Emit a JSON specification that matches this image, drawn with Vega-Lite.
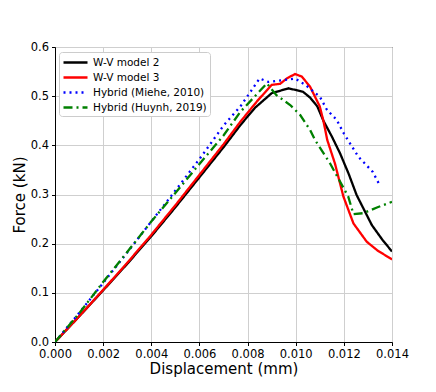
{
  "$schema": "https://vega.github.io/schema/vega-lite/v6.json",
  "autosize": "none",
  "width": 337,
  "height": 295,
  "padding": {"left": 55, "top": 47, "right": 44, "bottom": 50},
  "background": "white",
  "config": {
    "font": "DejaVu Sans",
    "view": {"stroke": "black", "strokeWidth": 1},
    "axis": {
      "domainColor": "black",
      "tickColor": "black",
      "tickSize": 3.5,
      "labelColor": "black",
      "labelFontSize": 11.5,
      "labelPadding": 3,
      "titleColor": "black",
      "titleFontSize": 15,
      "titleFontWeight": "normal",
      "gridColor": "#cfcfcf",
      "gridWidth": 1,
      "labelFlush": false,
      "labelOverlap": false,
      "labelBound": false
    },
    "legend": {
      "fillColor": "white",
      "strokeColor": "#cccccc",
      "cornerRadius": 3,
      "padding": 3,
      "symbolType": "M-1,0H3",
      "symbolSize": 144,
      "symbolStrokeWidth": 2.3,
      "labelFontSize": 10.5,
      "labelColor": "black",
      "rowPadding": 2,
      "labelOffset": 16
    }
  },
  "data": {
    "values": [
      {"s": "W-V model 2", "x": 0, "y": 0},
      {"s": "W-V model 2", "x": 0.001, "y": 0.052},
      {"s": "W-V model 2", "x": 0.002, "y": 0.105},
      {"s": "W-V model 2", "x": 0.003, "y": 0.159},
      {"s": "W-V model 2", "x": 0.004, "y": 0.215},
      {"s": "W-V model 2", "x": 0.005, "y": 0.274},
      {"s": "W-V model 2", "x": 0.006, "y": 0.335},
      {"s": "W-V model 2", "x": 0.007, "y": 0.396},
      {"s": "W-V model 2", "x": 0.0077, "y": 0.441},
      {"s": "W-V model 2", "x": 0.0083, "y": 0.476},
      {"s": "W-V model 2", "x": 0.009, "y": 0.506},
      {"s": "W-V model 2", "x": 0.0097, "y": 0.516},
      {"s": "W-V model 2", "x": 0.0103, "y": 0.509},
      {"s": "W-V model 2", "x": 0.0106, "y": 0.497},
      {"s": "W-V model 2", "x": 0.0109, "y": 0.479},
      {"s": "W-V model 2", "x": 0.01115, "y": 0.45},
      {"s": "W-V model 2", "x": 0.0115, "y": 0.418},
      {"s": "W-V model 2", "x": 0.01184, "y": 0.384},
      {"s": "W-V model 2", "x": 0.0122, "y": 0.342},
      {"s": "W-V model 2", "x": 0.01253, "y": 0.299},
      {"s": "W-V model 2", "x": 0.01285, "y": 0.268},
      {"s": "W-V model 2", "x": 0.01316, "y": 0.238},
      {"s": "W-V model 2", "x": 0.0136, "y": 0.208},
      {"s": "W-V model 2", "x": 0.014, "y": 0.184},

      {"s": "W-V model 3", "x": 0, "y": 0},
      {"s": "W-V model 3", "x": 0.001, "y": 0.052},
      {"s": "W-V model 3", "x": 0.002, "y": 0.106},
      {"s": "W-V model 3", "x": 0.003, "y": 0.161},
      {"s": "W-V model 3", "x": 0.004, "y": 0.218},
      {"s": "W-V model 3", "x": 0.005, "y": 0.278},
      {"s": "W-V model 3", "x": 0.006, "y": 0.34},
      {"s": "W-V model 3", "x": 0.007, "y": 0.402},
      {"s": "W-V model 3", "x": 0.0077, "y": 0.448},
      {"s": "W-V model 3", "x": 0.0084, "y": 0.49},
      {"s": "W-V model 3", "x": 0.009, "y": 0.523},
      {"s": "W-V model 3", "x": 0.00935, "y": 0.525},
      {"s": "W-V model 3", "x": 0.00963, "y": 0.536},
      {"s": "W-V model 3", "x": 0.00997, "y": 0.545},
      {"s": "W-V model 3", "x": 0.01025, "y": 0.54},
      {"s": "W-V model 3", "x": 0.0106, "y": 0.519},
      {"s": "W-V model 3", "x": 0.011, "y": 0.479},
      {"s": "W-V model 3", "x": 0.01115, "y": 0.45},
      {"s": "W-V model 3", "x": 0.01131, "y": 0.411},
      {"s": "W-V model 3", "x": 0.01163, "y": 0.363},
      {"s": "W-V model 3", "x": 0.01198, "y": 0.296},
      {"s": "W-V model 3", "x": 0.0124, "y": 0.241},
      {"s": "W-V model 3", "x": 0.01295, "y": 0.204},
      {"s": "W-V model 3", "x": 0.0134, "y": 0.186},
      {"s": "W-V model 3", "x": 0.014, "y": 0.168},

      {"s": "Hybrid (Miehe, 2010)", "x": 0, "y": 0},
      {"s": "Hybrid (Miehe, 2010)", "x": 0.001, "y": 0.059},
      {"s": "Hybrid (Miehe, 2010)", "x": 0.002, "y": 0.12},
      {"s": "Hybrid (Miehe, 2010)", "x": 0.003, "y": 0.182},
      {"s": "Hybrid (Miehe, 2010)", "x": 0.004, "y": 0.245},
      {"s": "Hybrid (Miehe, 2010)", "x": 0.005, "y": 0.308},
      {"s": "Hybrid (Miehe, 2010)", "x": 0.006, "y": 0.372},
      {"s": "Hybrid (Miehe, 2010)", "x": 0.007, "y": 0.44},
      {"s": "Hybrid (Miehe, 2010)", "x": 0.0077, "y": 0.479},
      {"s": "Hybrid (Miehe, 2010)", "x": 0.0085, "y": 0.536},
      {"s": "Hybrid (Miehe, 2010)", "x": 0.00886, "y": 0.529},
      {"s": "Hybrid (Miehe, 2010)", "x": 0.0092, "y": 0.531},
      {"s": "Hybrid (Miehe, 2010)", "x": 0.00956, "y": 0.533},
      {"s": "Hybrid (Miehe, 2010)", "x": 0.00997, "y": 0.536},
      {"s": "Hybrid (Miehe, 2010)", "x": 0.0104, "y": 0.523},
      {"s": "Hybrid (Miehe, 2010)", "x": 0.011, "y": 0.499},
      {"s": "Hybrid (Miehe, 2010)", "x": 0.0113, "y": 0.472},
      {"s": "Hybrid (Miehe, 2010)", "x": 0.0117, "y": 0.452},
      {"s": "Hybrid (Miehe, 2010)", "x": 0.012, "y": 0.424},
      {"s": "Hybrid (Miehe, 2010)", "x": 0.0126, "y": 0.377},
      {"s": "Hybrid (Miehe, 2010)", "x": 0.0132, "y": 0.346},
      {"s": "Hybrid (Miehe, 2010)", "x": 0.0135, "y": 0.318},

      {"s": "Hybrid (Huynh, 2019)", "x": 0, "y": 0},
      {"s": "Hybrid (Huynh, 2019)", "x": 0.001, "y": 0.058},
      {"s": "Hybrid (Huynh, 2019)", "x": 0.002, "y": 0.122},
      {"s": "Hybrid (Huynh, 2019)", "x": 0.003, "y": 0.183},
      {"s": "Hybrid (Huynh, 2019)", "x": 0.004, "y": 0.245},
      {"s": "Hybrid (Huynh, 2019)", "x": 0.005, "y": 0.303},
      {"s": "Hybrid (Huynh, 2019)", "x": 0.006, "y": 0.362},
      {"s": "Hybrid (Huynh, 2019)", "x": 0.007, "y": 0.42},
      {"s": "Hybrid (Huynh, 2019)", "x": 0.0077, "y": 0.468},
      {"s": "Hybrid (Huynh, 2019)", "x": 0.0088, "y": 0.526},
      {"s": "Hybrid (Huynh, 2019)", "x": 0.0092, "y": 0.502},
      {"s": "Hybrid (Huynh, 2019)", "x": 0.00977, "y": 0.482},
      {"s": "Hybrid (Huynh, 2019)", "x": 0.01018, "y": 0.462},
      {"s": "Hybrid (Huynh, 2019)", "x": 0.0106, "y": 0.431},
      {"s": "Hybrid (Huynh, 2019)", "x": 0.0108, "y": 0.411},
      {"s": "Hybrid (Huynh, 2019)", "x": 0.01143, "y": 0.363},
      {"s": "Hybrid (Huynh, 2019)", "x": 0.0118, "y": 0.33},
      {"s": "Hybrid (Huynh, 2019)", "x": 0.01218, "y": 0.296},
      {"s": "Hybrid (Huynh, 2019)", "x": 0.0124, "y": 0.26},
      {"s": "Hybrid (Huynh, 2019)", "x": 0.0128, "y": 0.262},
      {"s": "Hybrid (Huynh, 2019)", "x": 0.0134, "y": 0.274},
      {"s": "Hybrid (Huynh, 2019)", "x": 0.014, "y": 0.285}
    ]
  },
  "mark": {"type": "line", "strokeWidth": 2.3, "clip": true},
  "encoding": {
    "x": {
      "field": "x",
      "type": "quantitative",
      "scale": {"domain": [0, 0.014], "nice": false, "zero": false},
      "axis": {"title": "Displacement (mm)", "format": ".3f", "values": [0, 0.002, 0.004, 0.006, 0.008, 0.01, 0.012, 0.014], "titlePadding": 1}
    },
    "y": {
      "field": "y",
      "type": "quantitative",
      "scale": {"domain": [0, 0.6], "nice": false},
      "axis": {"title": "Force (kN)", "format": ".1f", "values": [0, 0.1, 0.2, 0.3, 0.4, 0.5, 0.6], "titlePadding": 3}
    },
    "color": {
      "field": "s",
      "type": "nominal",
      "sort": null,
      "scale": {
        "domain": ["W-V model 2", "W-V model 3", "Hybrid (Miehe, 2010)", "Hybrid (Huynh, 2019)"],
        "range": ["black", "red", "blue", "#008000"]
      },
      "legend": {"title": null, "orient": "none", "legendX": 4, "legendY": 5}
    },
    "strokeDash": {
      "field": "s",
      "type": "nominal",
      "sort": null,
      "scale": {
        "domain": ["W-V model 2", "W-V model 3", "Hybrid (Miehe, 2010)", "Hybrid (Huynh, 2019)"],
        "range": [[1, 0], [1, 0], [2, 4], [9, 4, 2, 4]]
      },
      "legend": {"title": null, "orient": "none", "legendX": 4, "legendY": 5}
    }
  }
}
